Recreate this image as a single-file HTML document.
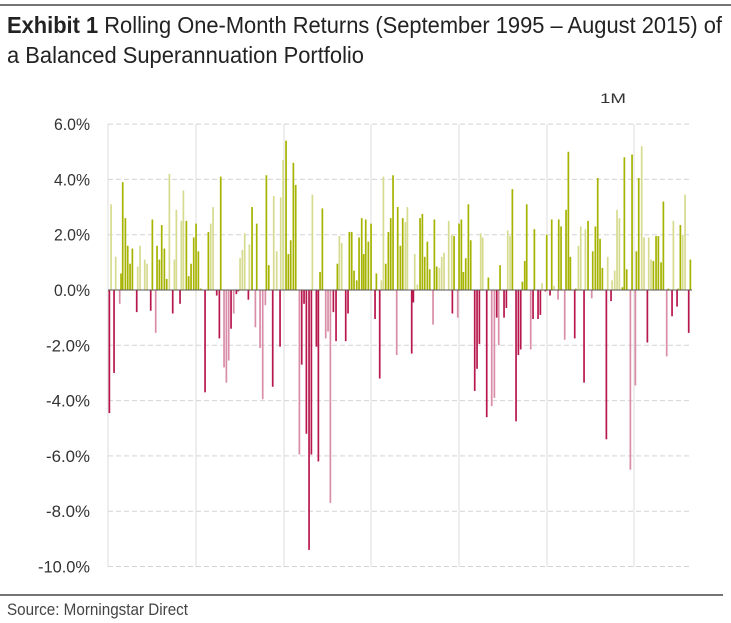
<!DOCTYPE html>
<html><head><meta charset="utf-8"><style>
html,body{margin:0;padding:0;background:#fff;}
svg{display:block;}
</style></head><body>
<svg id="c" width="731" height="623" xmlns="http://www.w3.org/2000/svg">
<line x1="0" y1="5" x2="731" y2="5" stroke="#222" stroke-width="1.2"/>
<text x="7" y="33" font-family="Liberation Sans Narrow, Liberation Sans, sans-serif" font-size="23" fill="#222" textLength="715" lengthAdjust="spacingAndGlyphs"><tspan font-weight="bold">Exhibit 1</tspan>  Rolling One-Month Returns (September 1995 – August 2015) of</text>
<text x="7" y="63" font-family="Liberation Sans Narrow, Liberation Sans, sans-serif" font-size="23" fill="#222" textLength="357" lengthAdjust="spacingAndGlyphs">a Balanced Superannuation Portfolio</text>
<text x="600" y="103" font-family="Liberation Sans, sans-serif" font-size="14" fill="#333" textLength="26" lengthAdjust="spacingAndGlyphs">1M</text>
<g id="grid"></g>
<g id="bars"></g>
<line x1="108" y1="290" x2="692" y2="290" stroke="#555" stroke-width="1"/>
<line x1="0" y1="595" x2="723" y2="595" stroke="#222" stroke-width="1.2"/>
<text x="7" y="615" font-family="Liberation Sans Narrow, Liberation Sans, sans-serif" font-size="17" fill="#444" textLength="181" lengthAdjust="spacingAndGlyphs">Source: Morningstar Direct</text>
</svg>
<script>
var NS="http://www.w3.org/2000/svg";
function el(t,a,p){var e=document.createElementNS(NS,t);for(var k in a)e.setAttribute(k,a[k]);p.appendChild(e);return e;}
var g=document.getElementById('grid');
function Y(v){return 290-v*27.65;}
[108,196,284,371,459,547,634].forEach(function(x){el('line',{x1:x,y1:124,x2:x,y2:567,stroke:'#ddd','stroke-width':1},g);});
for(var v=6;v>=-10;v-=2){var y=Y(v);
 if(v!==0) el('line',{x1:108,y1:y,x2:692,y2:y,stroke:'#d4d4d4','stroke-width':1,'stroke-dasharray':'5,3'},g);
 var s=v.toFixed(1)+'%';
 var w=s.length===4?36:(s.length===5?44:52);
 var t=el('text',{x:90-w,y:y+6,'font-family':'Liberation Sans Narrow, Liberation Sans, sans-serif','font-size':'17',fill:'#333',textLength:w,lengthAdjust:'spacingAndGlyphs'},g);
 t.textContent=s;}
var b=document.getElementById('bars');
var z1=[[28,-4.45],[33,3.1,1],[42,-3.0],[47,1.2,1],[59,-0.5,1],[63,0.6],[68,3.9],[76,2.6],[83,1.6],[90,0.95],[97,1.5],[110,-0.8],[113,0.85,1],[120,1.6,1],[134,1.1,1],[141,0.95,1],[152,-0.75],[157,2.55],[167,-1.55,1],[171,1.6],[178,1.1],[185,2.35],[193,1.5],[200,0.4],[208,4.2,1],[218,-0.85],[223,1.1,1],[229,2.9,1],[240,-0.5],[244,2.5,1],[250,3.6,1],[259,2.5],[266,0.5],[273,0.95],[281,1.9],[288,2.4],[295,1.4],[302,0.05],[315,-3.7],[325,2.1],[332,2.4,1],[339,3.0,1],[350,-0.2],[358,-1.75],[362,4.1],[372,-2.8,1],[379,-3.35,1],[386,-2.55,1],[393,-1.4],[401,-0.85,1],[409,-0.15],[415,-0.05],[420,1.15,1],[427,1.45,1],[434,2.05,1],[445,-0.35],[448,1.65,1],[456,3.0],[466,-1.35,1],[470,2.4],[480,-2.1,1],[488,-3.95,1],[496,-0.55,1],[499,4.15],[506,0.9],[518,-3.5],[521,3.4,1],[530,1.4,1],[540,-2.05],[542,3.35,1],[549,4.7,1],[558,5.4],[565,1.3],[572,1.8],[580,4.6],[587,3.8],[598,-5.95,1],[605,-2.7],[612,-0.5],[619,-5.2],[627,-9.4],[634,-5.95],[637,3.45,1],[649,-2.05],[655,-6.2],[660,0.65],[667,2.95],[677,-1.75,1],[684,-1.5,1],[691,-7.7,1],[700,-0.8],[708,-1.85],[712,0.95],[718,1.95,1],[725,1.7,1],[737,-1.85],[744,-0.85],[748,2.1],[755,2.1],[762,0.7],[770,0.35],[777,1.9],[785,2.6],[791,1.3],[797,2.55],[805,1.75],[813,2.4],[825,-1.05],[829,0.6],[839,-3.2],[844,0.35,1],[850,4.1,1],[857,0.95],[865,2.1],[872,2.6],[879,4.15],[890,-2.35,1],[893,3.0],[901,1.6],[908,2.6],[916,2.45,1],[922,3.0,1]];
var z2=[[35,-2.3],[40,-0.45],[44,1.3,1],[52,0.2,1],[60,2.6],[67,2.75],[74,1.2],[82,1.75],[89,0.75],[99,-1.25,1],[103,2.55],[110,0.85],[118,0.8,1],[125,1.2,1],[132,1.35,1],[146,2.5,1],[155,2.0,1],[157,-0.85],[162,1.95],[173,-1.0,1],[177,2.4],[184,2.55],[190,0.65],[197,1.15],[205,3.1],[212,1.8],[224,-3.65],[231,-2.85],[238,-1.95],[242,2.05,1],[248,1.9,1],[260,-4.6],[265,0.45],[275,-4.2,1],[283,-3.9,1],[290,-1.0],[296,-2.0,1],[300,0.9],[312,-1.0],[319,-0.65],[323,2.15,1],[330,1.95,1],[337,3.65],[348,-4.75],[355,-2.35],[362,-2.15],[367,0.3],[374,1.05],[380,3.1],[392,-2.15,1],[399,-1.05],[403,2.2],[414,-1.05],[421,-0.9],[426,0.25,1],[436,-0.05],[440,2.0],[450,-0.2],[455,2.55],[462,0.15,1],[474,-0.35,1],[476,2.55],[483,2.3],[494,-1.8,1],[498,2.9],[505,5.0],[511,1.2],[524,-1.75],[527,0.05],[535,1.6,1],[542,2.3,1],[552,-3.35],[556,2.2,1],[564,2.5],[575,-0.3,1],[578,1.4],[586,2.3],[593,4.05],[600,1.85],[607,0.8],[619,-5.4],[623,1.2,1],[633,-0.4],[636,0.35,1],[644,0.7,1],[651,2.9,1],[658,2.6,1],[667,0.1],[673,4.8],[680,0.75],[691,-6.5,1],[696,4.9],[706,-3.45,1],[709,1.4],[716,4.05],[725,5.2,1],[732,1.9,1],[742,-1.9],[746,1.9,1],[753,1.1,1],[760,1.05],[768,1.95],[775,1.95],[783,1.0],[790,3.2],[800,-2.4,1],[805,0.05],[816,-0.95],[820,2.5,1],[831,-0.6],[834,0.05],[841,2.35],[848,2.0,1],[855,3.45,1],[866,-1.55],[871,1.1]];
function draw(arr,base){arr.forEach(function(d){var x=base+d[0]/3,v=d[1],l=d[2];
 var c=v>=0?(l?'#d6db8f':'#a6b300'):(l?'#d98da8':'#b8174c');
 var y0=Y(0),y1=Y(v);
 el('rect',{x:(x-0.8).toFixed(2),y:Math.min(y0,y1).toFixed(2),width:1.7,height:Math.max(0.8,Math.abs(y1-y0)).toFixed(2),fill:c},b);});}
draw(z1,100);draw(z2,400);
</script>
</body></html>
